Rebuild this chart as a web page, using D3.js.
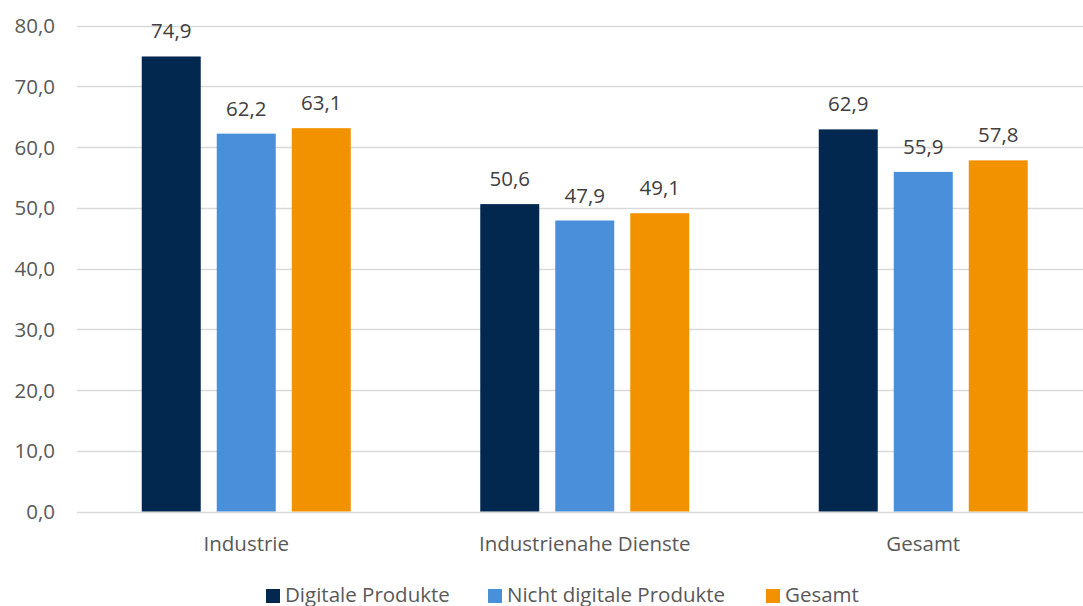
<!DOCTYPE html>
<html>
<head>
<meta charset="utf-8">
<script src="https://cdn.jsdelivr.net/npm/d3@7"></script>
<style>
  html, body { margin: 0; padding: 0; background: #fff; }
  svg { display: block; font-family: "Open Sans", sans-serif; }
</style>
</head>
<body>
<svg id="chart" width="1083" height="606"></svg>
<script>
// Categories and series
const categories = ["Industrie", "Industrienahe Dienste", "Gesamt"];
const seriesNames = ["Digitale Produkte", "Nicht digitale Produkte", "Gesamt"];
const digitale = [74.9, 50.6, 62.9];
const nichtDigitale = [62.2, 47.9, 55.9];
const gesamt = [63.1, 49.1, 57.8];
const yTicks = [0, 10, 20, 30, 40, 50, 60, 70, 80];
const colors = ["#03284f", "#4a8fd9", "#f39200"];

const fontFamily = "'Open Sans', sans-serif";
const fontSize = 20.5;

const seriesValues = [digitale, nichtDigitale, gesamt];
const rows = categories.map((c, i) => ({
  category: c,
  values: seriesNames.map((s, j) => ({ key: j, value: seriesValues[j][i] }))
}));

const svg = d3.select("#chart");
const fmt = v => d3.format(".1f")(v).replace(".", ",");

const plotLeft = 77, plotRight = 1092.5;
const y = d3.scaleLinear().domain([0, 80]).range([511.5, 25.5]);
const x0 = d3.scaleBand().domain(categories).range([plotLeft, plotRight])
  .paddingInner(0).paddingOuter(0);
const groupPad = 64.75;
const x1 = d3.scaleBand().domain(d3.range(seriesNames.length))
  .range([groupPad, x0.bandwidth() - groupPad]).paddingInner(16 / 75);

// Gridlines
svg.append("g").selectAll("line").data(yTicks).join("line")
  .attr("x1", plotLeft).attr("x2", 1083)
  .attr("y1", d => Math.round(y(d)) + 0.5).attr("y2", d => Math.round(y(d)) + 0.5)
  .attr("stroke", "#d9d9d9").attr("stroke-width", 1.3);

// Y axis labels
const yAxis = d3.axisLeft(y).tickValues(yTicks).tickFormat(fmt).tickSize(0).tickPadding(0);
const yg = svg.append("g").attr("transform", "translate(55,0)").call(yAxis);
yg.select(".domain").remove();
yg.selectAll("text").attr("fill", "#595959").attr("font-size", fontSize)
  .attr("font-family", fontFamily).attr("dy", "0.35em");

// Bars
const groups = svg.append("g").selectAll("g").data(rows).join("g")
  .attr("transform", d => `translate(${x0(d.category)},0)`);

groups.selectAll("rect").data(d => d.values).join("rect")
  .attr("x", d => x1(d.key)).attr("width", x1.bandwidth())
  .attr("y", d => y(d.value)).attr("height", d => y(0) - y(d.value))
  .attr("fill", d => colors[d.key]);

groups.selectAll("text").data(d => d.values).join("text")
  .attr("x", d => x1(d.key) + x1.bandwidth() / 2)
  .attr("y", d => y(d.value) - 18)
  .attr("text-anchor", "middle").attr("font-size", fontSize).attr("fill", "#404040")
  .text(d => fmt(d.value));

// X axis labels
const xAxis = d3.axisBottom(x0).tickSize(0).tickPadding(0);
const xg = svg.append("g").attr("transform", "translate(0,551)").call(xAxis);
xg.select(".domain").remove();
xg.selectAll("text").attr("fill", "#595959").attr("font-size", fontSize).attr("dy", 0)
  .attr("font-family", fontFamily);

// Legend
const legendX = [266, 488, 766];
const legend = svg.append("g").selectAll("g").data(seriesNames).join("g")
  .attr("transform", (d, i) => `translate(${legendX[i]},589)`);
legend.append("rect").attr("width", 14).attr("height", 14).attr("fill", (d, i) => colors[i]);
legend.append("text").attr("x", 19).attr("y", 12.5).attr("font-size", fontSize)
  .attr("fill", "#595959").text(d => d);
</script>
</body>
</html>
